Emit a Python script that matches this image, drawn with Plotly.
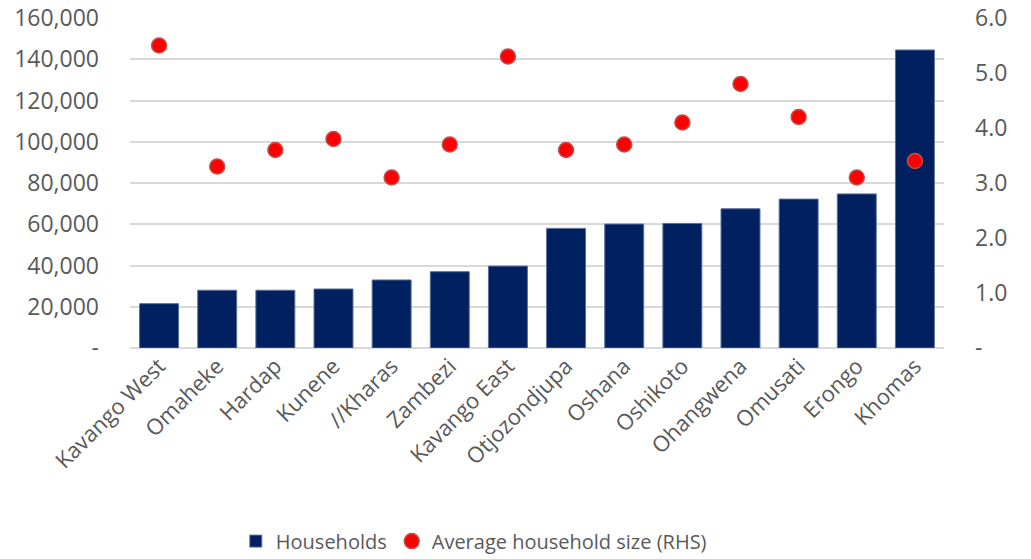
import plotly.graph_objects as go

regions = ["Kavango West", "Omaheke", "Hardap", "Kunene", "//Kharas", "Zambezi",
           "Kavango East", "Otjozondjupa", "Oshana", "Oshikoto", "Ohangwena",
           "Omusati", "Erongo", "Khomas"]
households = [21500, 28000, 28000, 28600, 33000, 37000, 39700, 58000, 60100,
              60400, 67500, 72200, 74700, 144500]
avg_size = [5.5, 3.3, 3.6, 3.8, 3.1, 3.7, 5.3, 3.6, 3.7, 4.1, 4.8, 4.2, 3.1, 3.4]

left_ticks = [0, 20000, 40000, 60000, 80000, 100000, 120000, 140000, 160000]
left_labels = ["-", "20,000", "40,000", "60,000", "80,000", "100,000", "120,000",
               "140,000", "160,000"]
right_ticks = [0, 1, 2, 3, 4, 5, 6]
right_labels = ["-", "1.0", "2.0", "3.0", "4.0", "5.0", "6.0"]

FONT = "Open Sans"
GREY = "#595959"

fig = go.Figure()
fig.add_trace(go.Bar(
    x=regions, y=households, name="Households",
    marker=dict(color="#002060", line=dict(color="#5a6f9a", width=1)),
))
fig.add_trace(go.Scatter(
    x=regions, y=avg_size, name="Average household size (RHS)", yaxis="y2",
    mode="markers",
    marker=dict(color="#ff0000", size=15, line=dict(color="#c0504d", width=1.5)),
))

fig.update_layout(
    width=1031, height=559,
    margin=dict(l=130, r=87, t=18, b=211, autoexpand=False),
    plot_bgcolor="white", paper_bgcolor="white",
    font=dict(family=FONT, color=GREY, size=20),
    bargap=0.33,
    showlegend=True,
    hovermode=False,
    legend=dict(orientation="h", x=0.13, xanchor="left", yref="container",
                y=0.032, yanchor="middle",
                font=dict(size=20, color=GREY, family=FONT), itemwidth=30,
                traceorder="normal"),
    xaxis=dict(tickangle=-45, showgrid=False, showline=False, ticks="",
               automargin=False, range=[-0.5, len(regions) - 0.5],
               tickfont=dict(size=22, color=GREY, family=FONT)),
    yaxis=dict(range=[0, 160000], tickvals=left_ticks, ticktext=left_labels,
               showgrid=True, gridcolor="#d9d9d9", gridwidth=1.5,
               zeroline=True, zerolinecolor="#d9d9d9", zerolinewidth=1.5,
               showline=False, ticks="", ticklabelstandoff=30, automargin=False,
               ticklabeloverflow="allow",
               tickfont=dict(size=23, color=GREY, family=FONT)),
    yaxis2=dict(range=[0, 6], tickvals=right_ticks, ticktext=right_labels,
                overlaying="y", side="right", showgrid=False, zeroline=False,
                showline=False, ticks="", ticklabelstandoff=30, automargin=False,
                ticklabeloverflow="allow",
                tickfont=dict(size=23, color=GREY, family=FONT)),
)

fig.write_html("out.html", config={"displayModeBar": False},
               post_script="document.body.style.margin='0';")
